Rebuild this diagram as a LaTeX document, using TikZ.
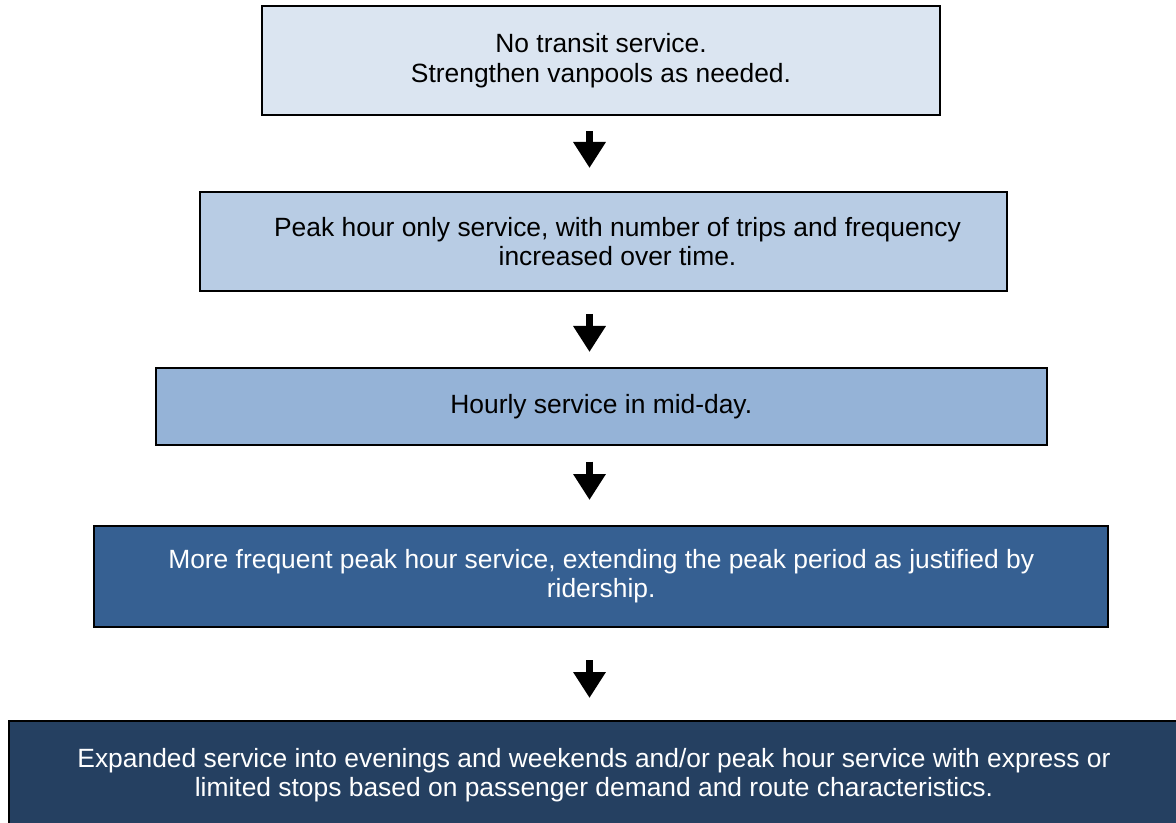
\documentclass[tikz,border=0pt]{standalone}
\usepackage{fontspec}
\setmainfont{Liberation Sans}
\usetikzlibrary{arrows.meta}

\definecolor{stepA}{HTML}{DBE5F1}
\definecolor{stepB}{HTML}{B8CCE4}
\definecolor{stepC}{HTML}{95B3D7}
\definecolor{stepD}{HTML}{366092}
\definecolor{stepE}{HTML}{254061}

\begin{document}
\begin{tikzpicture}[x=0.5pt,y=-0.5pt]
        \tikzstyle{every node}=[draw, line width=1pt, align=center, inner sep=0pt,
                                font=\fontsize{13.2}{14.5}\selectfont]
        \tikzstyle{downarrow}=[line width=3.6pt, -{Triangle[width=15.5pt,length=13pt]}]

        \useasboundingbox (0,0) rectangle (1176,823);
        \clip (0,0) rectangle (1176,823);

        \node   (0) [fill=stepA, minimum width=339pt, minimum height=54.5pt,
                     font=\fontsize{13.2}{15}\selectfont] at (601,60.5)
                {No transit service.\\Strengthen vanpools as needed.};
        \node   (1) [fill=stepB, minimum width=403.5pt, minimum height=49.5pt] at (603.5,241.5)
                {\hspace*{14pt}Peak hour only service, with number of trips and frequency\\
                 \hspace*{14pt}increased over time.};
        \node   (2) [fill=stepC, minimum width=445.75pt, minimum height=38.5pt] at (601.25,406.5)
                {Hourly service in mid-day.};
        \node   (3) [fill=stepD, text=white, minimum width=507pt, minimum height=50.5pt] at (601.2,576.5)
                {More frequent peak hour service, extending the peak period as justified by\\ridership.};
        \node   (4) [fill=stepE, text=white, minimum width=585pt, minimum height=54pt] at (594,775)
                {Expanded service into evenings and weekends and/or peak hour service with express or\\
                 limited stops based on passenger demand and route characteristics.};

        \coordinate (t0) at (589.5,131.5);  \coordinate (h0) at (589.5,168);
        \coordinate (t1) at (589.5,314);    \coordinate (h1) at (589.5,352);
        \coordinate (t2) at (589.5,461.5);  \coordinate (h2) at (589.5,500);
        \coordinate (t3) at (589.5,660);    \coordinate (h3) at (589.5,698);

        \draw[downarrow] (t0) -- (h0);
        \draw[downarrow] (t1) -- (h1);
        \draw[downarrow] (t2) -- (h2);
        \draw[downarrow] (t3) -- (h3);

\end{tikzpicture}
\end{document}
